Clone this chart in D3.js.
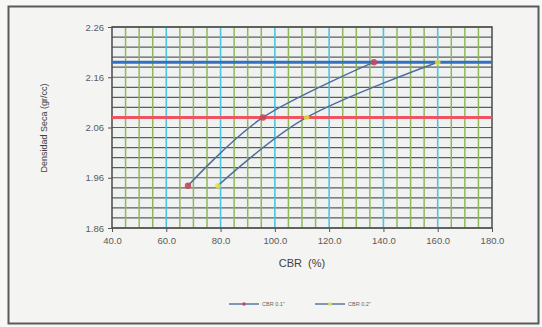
<!DOCTYPE html>
<html>
<head>
<meta charset="utf-8">
<script src="https://cdn.jsdelivr.net/npm/d3@7"></script>
<style>
  html, body { margin: 0; padding: 0; background: #f7f7f5; }
  svg { display: block; font-family: "Liberation Sans", Arial, sans-serif; }
</style>
</head>
<body>
<svg id="chart" width="542" height="327"></svg>
<script>
// CBR vs dry density (compaction / CBR test)
const xTickValues = [40, 60, 80, 100, 120, 140, 160, 180];
const yTickValues = [1.86, 1.96, 2.06, 2.16, 2.26];

// CBR at 0.1" penetration
const cbr01 = [68.0, 95.6, 136.5];
const density01 = [1.944, 2.080, 2.190];
// CBR at 0.2" penetration
const cbr02 = [79.0, 111.7, 160.0];
const density02 = [1.944, 2.080, 2.190];

// Maximum dry density and 95 % of it
const maxDensity = 2.19;
const density95 = 2.08;

const seriesNames = ['CBR 0.1"', 'CBR 0.2"'];

const svg = d3.select("#chart");
const plot = { left: 112, right: 492, top: 27, bottom: 228 };

// outer frame
svg.append("rect")
  .attr("x", 8.5).attr("y", 6.5).attr("width", 530).attr("height", 317)
  .attr("fill", "#f4f4f2").attr("stroke", "#5a5a5a").attr("stroke-width", 2);

const x = d3.scaleLinear().domain([40, 180]).range([plot.left, plot.right]);
const y = d3.scaleLinear().domain([1.86, 2.26]).range([plot.bottom, plot.top]);

// plot background
svg.append("rect")
  .attr("x", plot.left).attr("y", plot.top)
  .attr("width", plot.right - plot.left).attr("height", plot.bottom - plot.top)
  .attr("fill", "#f0f2f1");

const grid = svg.append("g");

// horizontal gridlines every 0.02
const hLines = d3.range(0, 21).map(i => 1.86 + i * 0.02);
grid.selectAll(".h").data(hLines).join("line")
  .attr("x1", plot.left).attr("x2", plot.right)
  .attr("y1", d => y(d)).attr("y2", d => y(d))
  .attr("stroke", "#5c5c5c").attr("stroke-width", 1.2);

// vertical minor gridlines every 5 %, major every 20 %
const minorX = d3.range(45, 180, 5).filter(v => v % 20 !== 0);
const majorX = xTickValues.filter(v => v > 40 && v < 180);
grid.selectAll(".vminor").data(minorX).join("line")
  .attr("x1", d => x(d)).attr("x2", d => x(d))
  .attr("y1", plot.top).attr("y2", plot.bottom)
  .attr("stroke", "#8fb85a").attr("stroke-width", 1.5);
grid.selectAll(".vmajor").data(majorX).join("line")
  .attr("x1", d => x(d)).attr("x2", d => x(d))
  .attr("y1", plot.top).attr("y2", plot.bottom)
  .attr("stroke", "#4cc4dc").attr("stroke-width", 1.6);

// plot border
svg.append("rect")
  .attr("x", plot.left).attr("y", plot.top)
  .attr("width", plot.right - plot.left).attr("height", plot.bottom - plot.top)
  .attr("fill", "none").attr("stroke", "#4a4a4a").attr("stroke-width", 1.5);

// axes
const yAxis = d3.axisLeft(y).tickValues(yTickValues).tickFormat(d3.format(".2f")).tickSize(4).tickPadding(4);
const xAxis = d3.axisBottom(x).tickValues(xTickValues).tickFormat(d3.format(".1f")).tickSize(4).tickPadding(5);

const gy = svg.append("g").attr("transform", `translate(${plot.left},0)`).call(yAxis);
const gx = svg.append("g").attr("transform", `translate(0,${plot.bottom})`).call(xAxis);
[gx, gy].forEach(g => {
  g.select(".domain").remove();
  g.selectAll(".tick line").attr("stroke", "#555");
  g.selectAll(".tick text").attr("fill", "#5a5a5a").attr("font-size", 9.5);
});

// axis titles
svg.append("text")
  .attr("x", 302).attr("y", 267)
  .attr("text-anchor", "middle").attr("font-size", 11).attr("fill", "#404040")
  .attr("xml:space", "preserve")
  .text("CBR  (%)");
svg.append("text")
  .attr("transform", "translate(47,128) rotate(-90)")
  .attr("text-anchor", "middle").attr("font-size", 9).attr("fill", "#404040")
  .text("Densidad Seca (gr/cc)");

// reference lines
svg.append("line")
  .attr("x1", plot.left).attr("x2", plot.right)
  .attr("y1", y(maxDensity)).attr("y2", y(maxDensity))
  .attr("stroke", "#3470c0").attr("stroke-width", 3);
svg.append("line")
  .attr("x1", plot.left).attr("x2", plot.right)
  .attr("y1", y(density95)).attr("y2", y(density95))
  .attr("stroke", "#ee5462").attr("stroke-width", 3);

// series
const line = d3.line().x(d => x(d[0])).y(d => y(d[1])).curve(d3.curveCatmullRom.alpha(0));
const s1 = cbr01.map((c, i) => [c, density01[i]]);
const s2 = cbr02.map((c, i) => [c, density02[i]]);
const lineColor = "#4d6e9c";

[s1, s2].forEach(s => {
  svg.append("path").datum(s)
    .attr("d", line).attr("fill", "none")
    .attr("stroke", lineColor).attr("stroke-width", 1.5);
});

svg.selectAll(".m1").data(s1).join("circle")
  .attr("cx", d => x(d[0])).attr("cy", d => y(d[1])).attr("r", 3.2)
  .attr("fill", "#c8485a").attr("opacity", 0.9);
svg.selectAll(".m2").data(s2).join("circle")
  .attr("cx", d => x(d[0])).attr("cy", d => y(d[1])).attr("r", 2.8)
  .attr("fill", "#e8e23a").attr("opacity", 0.8);

// legend
const legend = svg.append("g");
const items = [
  { name: seriesNames[0], x0: 229, marker: "#c8485a" },
  { name: seriesNames[1], x0: 315, marker: "#e8e23a" }
];
const ly = 304;
items.forEach(it => {
  legend.append("line")
    .attr("x1", it.x0).attr("x2", it.x0 + 30).attr("y1", ly).attr("y2", ly)
    .attr("stroke", lineColor).attr("stroke-width", 1.4);
  legend.append("circle")
    .attr("cx", it.x0 + 15).attr("cy", ly).attr("r", 1.8)
    .attr("fill", it.marker);
  legend.append("text")
    .attr("x", it.x0 + 33).attr("y", ly + 2)
    .attr("font-size", 5.5).attr("fill", "#666")
    .text(it.name);
});
</script>
</body>
</html>
